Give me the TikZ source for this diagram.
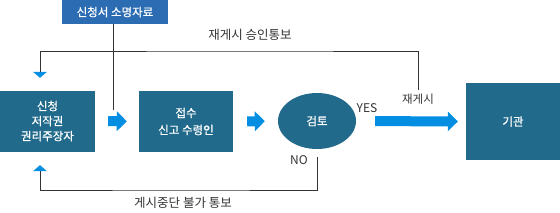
\documentclass[tikz,border=0pt]{standalone}
\usepackage{fontspec}
\newfontfamily\krfont{Noto Sans CJK KR}
\newfontfamily\krbfont[FakeBold=0.8]{Noto Sans CJK KR}
\usetikzlibrary{arrows.meta, shapes.geometric}
\definecolor{boxcol}{HTML}{226A8C}
\definecolor{srccol}{HTML}{2B6CB3}
\definecolor{arrowcol}{HTML}{038EE2}
\definecolor{linecol}{HTML}{333333}
\tikzset{
  pbox/.style={rectangle, fill=boxcol, text=white, minimum width=94pt, minimum height=61pt, align=center, inner sep=0pt, font=\krbfont\fontsize{11.5}{15}\selectfont},
  sbox/.style={rectangle, fill=srccol, text=white, minimum width=106pt, minimum height=24pt, inner sep=0pt, font=\krbfont\fontsize{11.5}{14}\selectfont},
  rnode/.style={ellipse, fill=boxcol, text=white, minimum width=78pt, minimum height=56pt, inner sep=0pt, font=\krbfont\fontsize{11.5}{14}\selectfont},
  lbl/.style={text=linecol, inner sep=0pt, font=\krfont\fontsize{12.5}{15}\selectfont},
  fatarrow/.style={draw=arrowcol, line width=10pt, -{Triangle[length=10pt, width=20pt, line width'=0pt]}},
  flowline/.style={draw=linecol, line width=0.8pt, -{Triangle[length=6pt, width=14pt, line width'=0pt, color=arrowcol, sep=1.5pt]}},
  plainline/.style={draw=linecol, line width=0.8pt},
}

\begin{document}
\begin{tikzpicture}[x=1pt, y=-1pt]
  \useasboundingbox (0,0) rectangle (560,212);
  \node[sbox] (claim) at (115,12) {신청서 소명자료};
  \node[pbox, minimum width=95pt] (applicant) at (47.5,121) {신청\\저작권\\권리주장자};
  \node[pbox, font=\krbfont\fontsize{11.5}{17}\selectfont] (receiver) at (186,121.5) {접수\\신고 수령인};
  \node[rnode] (review) at (317,121) {검토};
  \node[pbox, minimum height=77pt] (agency) at (513,121.5) {기관};
  % labels
  \node[lbl] (approvetxt) at (250,35) {재게시 승인통보};
  \node[lbl, font=\krfont\fontsize{11.5}{14}\selectfont] (repost) at (418,99) {재게시};
  \node[lbl, font=\krfont\fontsize{12}{14}\selectfont] (yes) at (367,108) {YES};
  \node[lbl, font=\krfont\fontsize{12}{14}\selectfont] (no) at (299,160) {NO};
  \node[lbl] (rejecttxt) at (183,203) {게시중단 불가 통보};
  \coordinate (approve) at (250,51);
  \coordinate (reject) at (183,190);
  \coordinate (claimend) at (113,110);
  % main flow
  \draw[fatarrow, shorten <=13pt, shorten >=12pt] (applicant.east) -- (receiver.west);
  \draw[fatarrow, shorten <=14pt, shorten >=13pt] (receiver.east) -- (review.west);
  \draw[fatarrow, shorten <=19pt, shorten >=8pt] (review.east) -- (agency.west);
  % feedback lines
  \draw[plainline] (claim.south -| claimend) -- (claimend);
  \draw[flowline, shorten <=4pt, shorten >=11pt] (repost.north) |- (approve) -| ([xshift=-7.5pt]applicant.north);
  \draw[flowline, shorten <=8pt, shorten >=12pt] (review.south) |- (reject) -| ([xshift=-7.5pt]applicant.south);
\end{tikzpicture}
\end{document}
